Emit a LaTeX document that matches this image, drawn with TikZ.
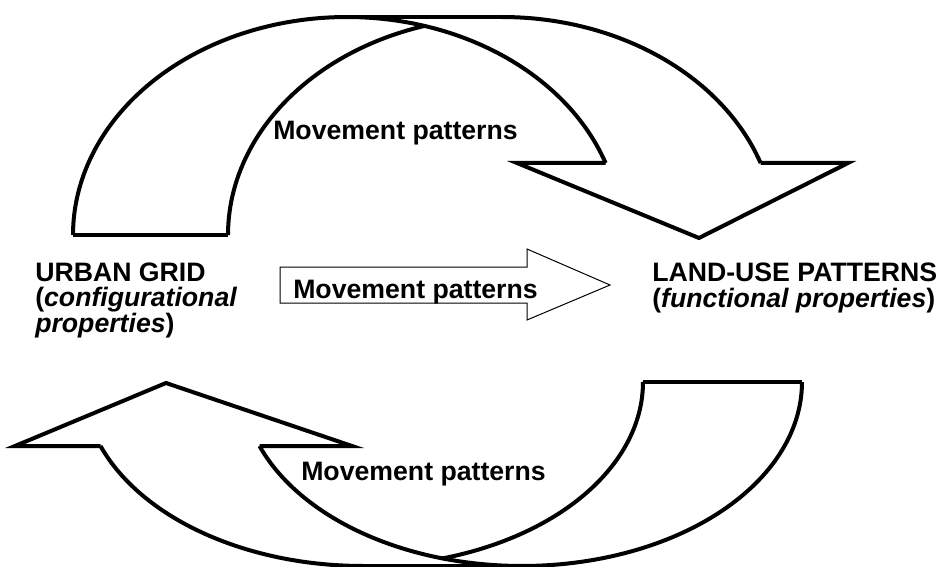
\documentclass[tikz,border=0pt]{standalone}
\usepackage{fontspec}
\setmainfont{Liberation Sans}
\begin{document}
\begin{tikzpicture}[x=0.75pt,y=-0.75pt,
  band/.style={line width=3pt,line join=miter,line cap=butt},
  thin/.style={line width=0.75pt,line join=miter},
  lbl/.style={font=\bfseries\fontsize{20pt}{19.1pt}\selectfont,inner sep=0pt,anchor=base west,align=left}]
\useasboundingbox (0,0) rectangle (947,567);
% ---------- top curved arrow ----------
\coordinate (t1) at (73,235);
\coordinate (t2) at (228,235);
\draw[band] (t1) -- (t2);
\draw[band] plot[domain=180:19.28,samples=120] ({347+274*cos(\x)},{235-218*sin(\x)});
\draw[band] plot[domain=180:106.43,samples=60] ({502+274*cos(\x)},{235-218*sin(\x)});
\draw[band] plot[domain=90:19.28,samples=60] ({502+274*cos(\x)},{235-218*sin(\x)});
\draw[band] (347,17) -- (502,17);
\coordinate (ts1) at (605.6,163);
\coordinate (ts2) at (760.6,163);
\draw[band] (ts1) -- (517,163) -- (699,238) -- (848,163) -- (ts2);
% ---------- bottom curved arrow ----------
\coordinate (b1) at (643,382);
\coordinate (b2) at (802,382);
\draw[band] (b1) -- (b2);
\draw[band] plot[domain=0:159.65,samples=120] ({522+280*cos(\x)},{382+184*sin(\x)});
\draw[band] plot[domain=0:73.5,samples=60] ({363+280*cos(\x)},{382+184*sin(\x)});
\draw[band] plot[domain=90:159.65,samples=60] ({363+280*cos(\x)},{382+184*sin(\x)});
\draw[band] (363,566) -- (522,566);
\coordinate (bs1) at (259.5,446);
\coordinate (bs2) at (100.5,446);
\draw[band] (bs1) -- (352,446) -- (166,383) -- (15,446) -- (bs2);
% ---------- middle straight arrow ----------
\draw[thin] (280,267) -- (527,267) -- (527,249) -- (610,285) -- (527,320) -- (527,303) -- (280,303) -- cycle;
% ---------- labels ----------
\node[lbl] (mtop) at (273,140) {Movement patterns};
\node[lbl] (mmid) at (293,298) {Movement patterns};
\node[lbl] (mbot) at (301,480) {Movement patterns};
\node[lbl] (grid) at (35,332) {URBAN GRID\\(\textit{configurational}\\\textit{properties})};
\node[lbl] (land) at (652,307) {LAND-USE PATTERNS\\(\textit{functional properties})};
\end{tikzpicture}
\end{document}
